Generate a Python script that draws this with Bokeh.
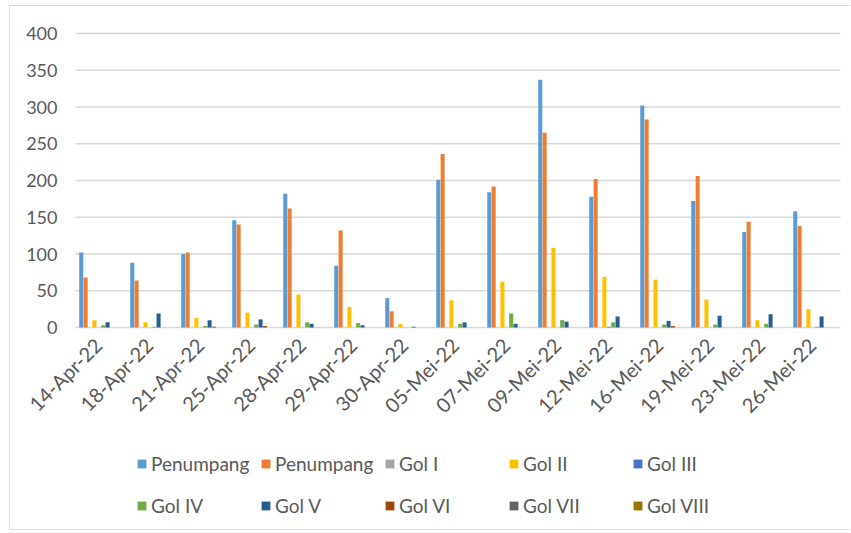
from bokeh.plotting import figure
from bokeh.models import ColumnDataSource, Range1d, Legend, LegendItem
from bokeh.core.properties import value
from bokeh.transform import dodge
from bokeh.embed import file_html
from bokeh.resources import INLINE
from math import pi

dates = ["14-Apr-22", "18-Apr-22", "21-Apr-22", "25-Apr-22", "28-Apr-22", "29-Apr-22",
         "30-Apr-22", "05-Mei-22", "07-Mei-22", "09-Mei-22", "12-Mei-22", "16-Mei-22",
         "19-Mei-22", "23-Mei-22", "26-Mei-22"]
penumpang_1 = [102, 88, 100, 146, 182, 84, 40, 201, 184, 337, 178, 302, 172, 130, 158]
penumpang_2 = [68, 64, 102, 140, 162, 132, 22, 236, 192, 265, 202, 283, 206, 144, 138]
gol_1 = [0, 0, 0, 0, 0, 0, 0, 0, 0, 0, 0, 0, 0, 0, 0]
gol_2 = [10, 7, 13, 20, 45, 28, 5, 37, 62, 108, 69, 65, 38, 10, 25]
gol_3 = [0, 0, 0, 0, 0, 0, 0, 0, 0, 0, 1, 0, 0, 0, 0]
gol_4 = [3, 1, 2, 4, 7, 6, 0, 5, 19, 10, 7, 4, 4, 5, 1]
gol_5 = [7, 19, 10, 11, 5, 3, 1, 7, 5, 8, 15, 9, 16, 18, 15]
gol_6 = [0, 0, 1, 2, 0, 0, 0, 0, 0, 0, 0, 2, 0, 0, 0]
gol_7 = [0, 0, 0, 0, 0, 0, 0, 0, 0, 0, 0, 0, 0, 0, 0]
gol_8 = [0, 0, 0, 0, 0, 0, 0, 0, 0, 0, 0, 0, 0, 0, 0]

series_keys = ["penumpang_1", "penumpang_2", "gol_1", "gol_2", "gol_3",
               "gol_4", "gol_5", "gol_6", "gol_7", "gol_8"]
series_labels = ["Penumpang", "Penumpang", "Gol I", "Gol II", "Gol III",
                 "Gol IV", "Gol V", "Gol VI", "Gol VII", "Gol VIII"]
y_ticks = [0, 50, 100, 150, 200, 250, 300, 350, 400]
y_tick_labels = ["0", "50", "100", "150", "200", "250", "300", "350", "400"]

colors = ["#5B9BD5", "#ED7D31", "#A5A5A5", "#FFC000", "#4472C4",
          "#70AD47", "#255E91", "#9E480E", "#636363", "#997300"]

n = len(dates)
source = ColumnDataSource(dict(
    x=[i + 0.5 for i in range(n)], date=dates,
    penumpang_1=penumpang_1, penumpang_2=penumpang_2,
    gol_1=gol_1, gol_2=gol_2, gol_3=gol_3, gol_4=gol_4, gol_5=gol_5,
    gol_6=gol_6, gol_7=gol_7, gol_8=gol_8))
tick_source = ColumnDataSource(dict(y=y_ticks, label=y_tick_labels))

FONT = "Lato"
TXT = "#595959"

# screen layout of the value area (window pixels)
CANVAS_LEFT, CANVAS_TOP, CANVAS_RIGHT, CANVAS_BOTTOM = 10, 6, 851, 531
AREA_LEFT, AREA_RIGHT, TOP_Y, ZERO_Y = 75, 840, 33, 327
px_per_unit = (ZERO_Y - TOP_Y) / 400
px_per_cat = (AREA_RIGHT - AREA_LEFT) / n
x_rng = Range1d(-(AREA_LEFT - CANVAS_LEFT) / px_per_cat,
                n + (CANVAS_RIGHT - AREA_RIGHT) / px_per_cat)
y_rng = Range1d(-(CANVAS_BOTTOM - ZERO_Y) / px_per_unit,
                400 + (TOP_Y - CANVAS_TOP) / px_per_unit)

p = figure(width=841, height=525, x_range=x_rng, y_range=y_rng,
           output_backend="svg", toolbar_location=None,
           min_border_left=0, min_border_right=0, min_border_top=0,
           min_border_bottom=0)
p.styles = {"margin-left": "9px", "margin-top": "5px",
            "border-left": "1px solid #d9d9d9", "border-top": "1px solid #d9d9d9",
            "border-bottom": "1px solid #d9d9d9"}
p.outline_line_color = None
p.background_fill_color = "white"
p.border_fill_color = "white"
p.xaxis.visible = False
p.yaxis.visible = False
p.xgrid.visible = False
p.ygrid.visible = False

# horizontal gridlines and value labels
p.segment(x0=0, x1=n, y0="y", y1="y", source=tick_source,
          line_color="#d9d9d9", line_width=1.5)
p.text(x=0, y="y", text="label", source=tick_source, x_offset=-18,
       text_align="right", text_baseline="middle",
       text_font=value(FONT), text_font_size="18px", text_color=TXT)

bw = 0.086
renderers = []
for i, key in enumerate(series_keys):
    r = p.vbar(x=dodge("x", (i - 4.5) * bw), top=key, width=bw * 0.92,
               source=source, fill_color=colors[i], line_color=None)
    renderers.append(r)

# category labels, rotated 45 degrees, hanging below the zero line
p.text(x="x", y=0, text="date", source=source, angle=pi / 4,
       text_align="right", text_baseline="middle", x_offset=-3, y_offset=14,
       text_font=value(FONT), text_font_size="20px", text_color=TXT)

items = [LegendItem(label=lab, renderers=[r]) for lab, r in zip(series_labels, renderers)]
for row, ypos in enumerate([47, 5]):
    legend = Legend(items=items[row * 5:(row + 1) * 5], location=(126, ypos),
                    orientation="horizontal",
                    padding=0, margin=0, spacing=0, border_line_color=None,
                    background_fill_alpha=0, glyph_width=11, glyph_height=11,
                    label_standoff=4, label_width=109, label_height=42,
                    label_text_font=FONT, label_text_font_size="19px",
                    label_text_color=TXT)
    p.add_layout(legend, "center")

open("out.html", "w").write(file_html(p, INLINE))
